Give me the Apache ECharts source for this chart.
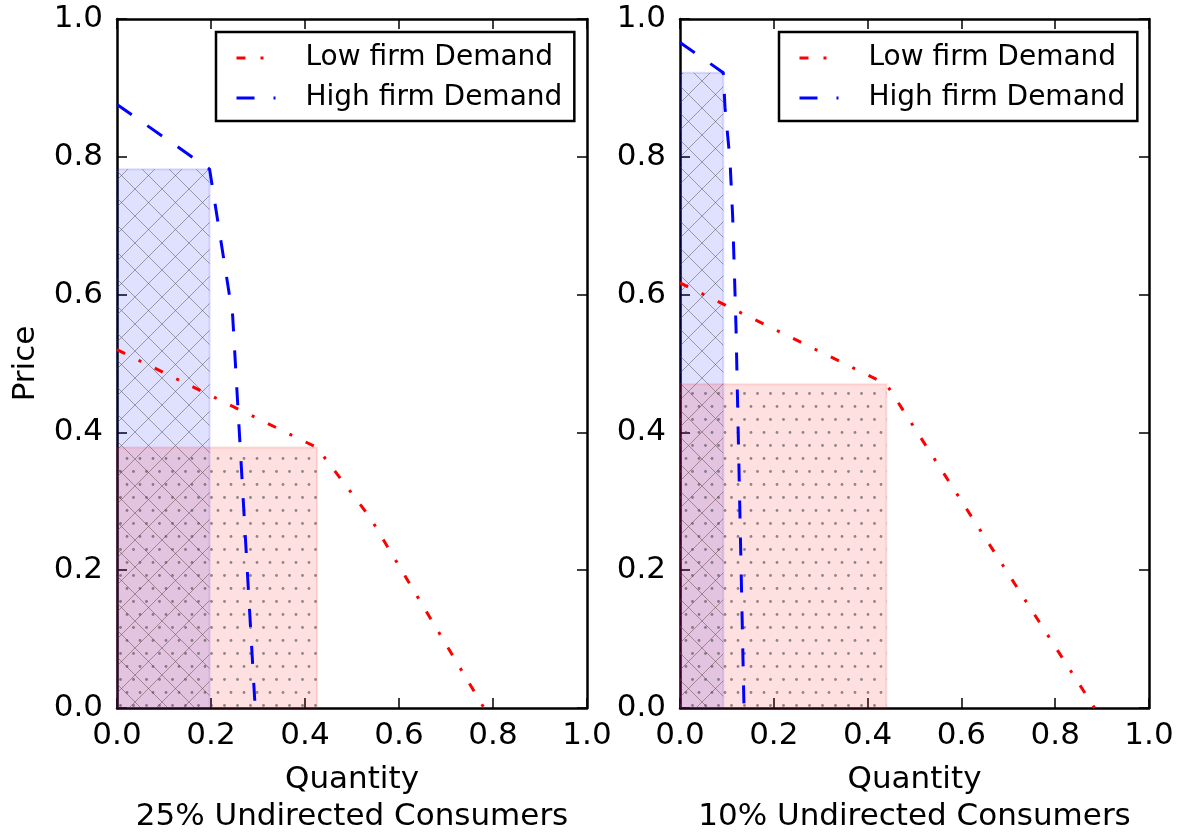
<!DOCTYPE html>
<html><head><meta charset="utf-8">
<script src="https://cdn.jsdelivr.net/npm/echarts@6/dist/echarts.min.js"></script>
<style>html,body{margin:0;padding:0;background:#fff}#c{width:1184px;height:834px}</style>
</head><body><div id="c"></div>
<script>
// ---- data ----
const tickValues = [0.0, 0.2, 0.4, 0.6, 0.8, 1.0];
const panelTitles = ['25% Undirected Consumers', '10% Undirected Consumers'];
const seriesNames = ['Low firm Demand', 'High firm Demand'];
// Panel 1: 25% undirected consumers
const lowQ25 = [0, 0.4255, 0.538, 0.781];
const lowP25 = [0.520, 0.378, 0.277, 0];
const highQ25 = [0, 0.197, 0.246, 0.294];
const highP25 = [0.876, 0.782, 0.570, 0];
const lowRect25 = [0.4255, 0.378];   // [quantity, price]
const highRect25 = [0.197, 0.782];
// Panel 2: 10% undirected consumers
const lowQ10 = [0, 0.440, 0.884];
const lowP10 = [0.617, 0.470, 0];
const highQ10 = [0, 0.0924, 0.0959, 0.1066, 0.1123, 0.1158, 0.1194, 0.1243, 0.1365];
const highP10 = [0.966, 0.922, 0.872, 0.795, 0.713, 0.636, 0.553, 0.394, 0];
const lowRect10 = [0.440, 0.470];
const highRect10 = [0.0924, 0.922];

// ---- patterns ----
function crossPattern() {
  const s = 27, c = document.createElement('canvas');
  c.width = s; c.height = s;
  const g = c.getContext('2d');
  g.fillStyle = 'rgba(0,0,255,0.12)'; g.fillRect(0, 0, s, s);
  g.strokeStyle = 'rgba(60,60,60,0.45)'; g.lineWidth = 1;
  g.beginPath();
  g.moveTo(-2, -2); g.lineTo(s + 2, s + 2);
  g.moveTo(s + 2, -2); g.lineTo(-2, s + 2);
  g.stroke();
  return c;
}
function dotPattern() {
  const w = 13, h = 26, c = document.createElement('canvas');
  c.width = w; c.height = h;
  const g = c.getContext('2d');
  g.fillStyle = 'rgba(255,0,0,0.12)'; g.fillRect(0, 0, w, h);
  g.fillStyle = 'rgba(70,70,70,0.6)';
  [[3.5, 3.5], [10, 16.5]].forEach(p => { g.beginPath(); g.arc(p[0], p[1], 1.4, 0, Math.PI * 2); g.fill(); });
  return c;
}
const crossImg = crossPattern();
const dotImg = dotPattern();

// ---- helpers ----
const FONT = 'DejaVu Sans';
const axisFont = { fontFamily: FONT, fontSize: 31, color: '#000' };

function rectSeries(rect, img, edge, xi, z) {
  return {
    type: 'custom', xAxisIndex: xi, yAxisIndex: xi, z: z, silent: true,
    data: [rect],
    renderItem: (params, api) => {
      const tl = api.coord([0, api.value(1)]);
      const br = api.coord([api.value(0), 0]);
      return {
        type: 'rect',
        shape: { x: tl[0], y: tl[1], width: br[0] - tl[0], height: br[1] - tl[1] },
        style: { fill: { image: img, repeat: 'repeat' }, stroke: edge, lineWidth: 2 }
      };
    }
  };
}
function lineSeries(name, qs, ps, color, dash, xi) {
  return {
    type: 'line', name: name, xAxisIndex: xi, yAxisIndex: xi, z: 5, silent: true,
    data: qs.map((q, i) => [q, ps[i]]),
    symbol: 'none', showSymbol: false,
    lineStyle: { color: color, width: 3, type: dash, cap: 'butt' },
    itemStyle: { color: color }
  };
}
function valueAxis(extra) {
  return Object.assign({
    type: 'value', min: tickValues[0], max: tickValues[tickValues.length - 1], interval: 0.2,
    splitLine: { show: false },
    axisLine: { show: true, onZero: false, lineStyle: { color: '#000', width: 2.5 } },
    axisTick: { show: true, inside: true, length: 10, lineStyle: { color: '#000', width: 1.5 } },
    axisLabel: { show: false }
  }, extra);
}
function legend(left) {
  return {
    left: left, top: 32, orient: 'vertical', data: seriesNames, selectedMode: false,
    padding: [12, 12, 9, 19], itemGap: 12, itemWidth: 39, itemHeight: 14,
    borderColor: '#000', borderWidth: 2.5, borderRadius: 0, backgroundColor: '#fff',
    itemStyle: { color: 'rgba(0,0,0,0)', borderWidth: 0, opacity: 0 },
    lineStyle: { width: 3 },
    formatter: n => '{t|' + n + '}',
    textStyle: {
      color: '#000', fontFamily: FONT, fontSize: 28,
      rich: { t: { fontFamily: FONT, fontSize: 28, color: '#000', lineHeight: 28, padding: [0, 0, 0, 25] } }
    }
  };
}
const labelFmt = v => v.toFixed(1);

const option = {
  animation: false,
  backgroundColor: '#fff',
  grid: [
    { left: 117, width: 470, top: 19, bottom: 126, outerBoundsMode: 'none', containLabel: false },
    { left: 680, width: 469, top: 19, bottom: 126, outerBoundsMode: 'none', containLabel: false }
  ],
  legend: [legend(216), legend(779)],
  xAxis: [
    valueAxis({ gridIndex: 0, position: 'bottom',
      axisLabel: Object.assign({ show: true, margin: 12, formatter: labelFmt }, axisFont),
      name: 'Quantity\n' + panelTitles[0], nameLocation: 'middle', nameGap: 53,
      nameTextStyle: Object.assign({ lineHeight: 37 }, axisFont) }),
    valueAxis({ gridIndex: 0, position: 'top' }),
    valueAxis({ gridIndex: 1, position: 'bottom',
      axisLabel: Object.assign({ show: true, margin: 12, formatter: labelFmt }, axisFont),
      name: 'Quantity\n' + panelTitles[1], nameLocation: 'middle', nameGap: 53,
      nameTextStyle: Object.assign({ lineHeight: 37 }, axisFont) }),
    valueAxis({ gridIndex: 1, position: 'top' })
  ],
  yAxis: [
    valueAxis({ gridIndex: 0, position: 'left',
      axisLabel: Object.assign({ show: true, margin: 14, formatter: labelFmt }, axisFont),
      name: 'Price', nameLocation: 'middle', nameGap: 76,
      nameTextStyle: axisFont }),
    valueAxis({ gridIndex: 0, position: 'right' }),
    valueAxis({ gridIndex: 1, position: 'left',
      axisLabel: Object.assign({ show: true, margin: 14, formatter: labelFmt }, axisFont) }),
    valueAxis({ gridIndex: 1, position: 'right' })
  ],
  series: [
    rectSeries(highRect25, crossImg, 'rgba(0,0,255,0.12)', 0, 1),
    rectSeries(lowRect25, dotImg, 'rgba(255,0,0,0.12)', 0, 2),
    lineSeries(seriesNames[0], lowQ25, lowP25, '#ff0000', [9, 15, 3, 15], 0),
    lineSeries(seriesNames[1], highQ25, highP25, '#0000ff', [18, 19], 0),
    rectSeries(highRect10, crossImg, 'rgba(0,0,255,0.12)', 2, 1),
    rectSeries(lowRect10, dotImg, 'rgba(255,0,0,0.12)', 2, 2),
    lineSeries(seriesNames[0], lowQ10, lowP10, '#ff0000', [9, 15, 3, 15], 2),
    lineSeries(seriesNames[1], highQ10, highP10, '#0000ff', [18, 19], 2)
  ]
};
const chart = echarts.init(document.getElementById('c'), null, { renderer: 'canvas' });
chart.setOption(option);
</script>
</body></html>
